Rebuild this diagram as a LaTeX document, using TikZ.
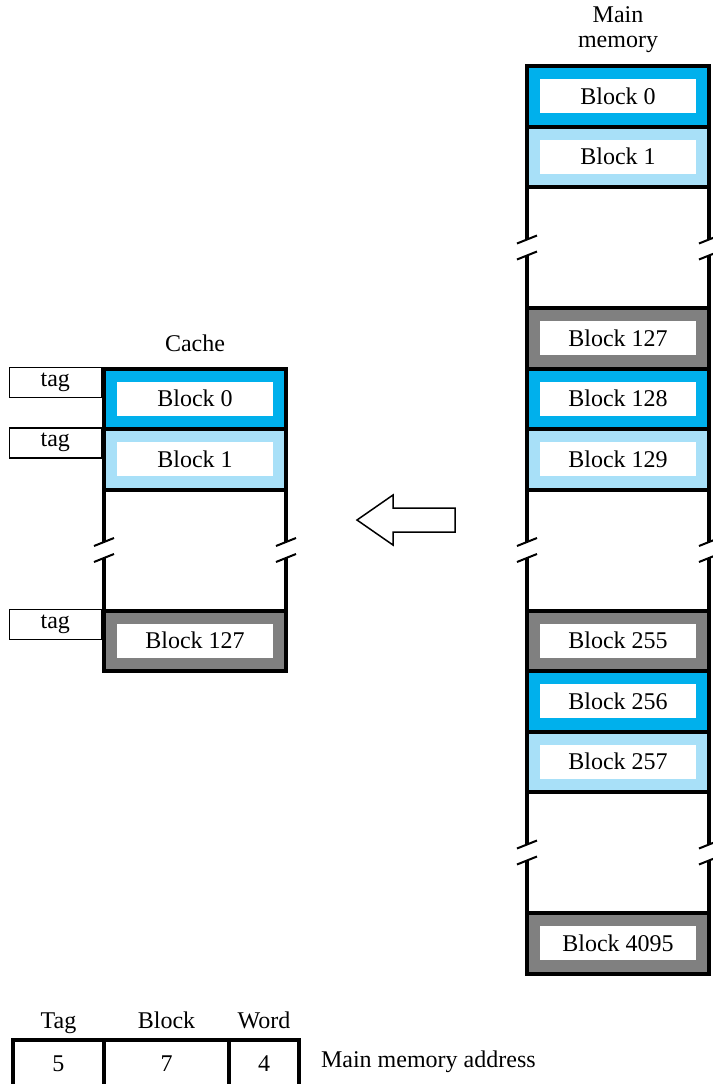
\documentclass[tikz,border=0pt]{standalone}
\usepackage{fontspec}
\setmainfont{Liberation Serif}
\usepackage{tikz}
\usetikzlibrary{positioning}
\definecolor{blkdark}{RGB}{0,176,236}
\definecolor{blklight}{RGB}{168,224,248}
\definecolor{blkgray}{RGB}{128,128,128}

\begin{document}
\begin{tikzpicture}[x=0.5pt, y=-0.5pt, every node/.style={font=\fontsize{12}{12.5}\selectfont},
  row/.style={draw, line width=2pt, minimum width=91pt, minimum height=30.25pt, inner sep=0pt},
  lbl/.style={fill=white, minimum width=78pt, minimum height=17pt, inner sep=0pt},
  tagbox/.style={draw, line width=0.75pt, minimum width=46pt, minimum height=15pt, inner sep=0pt},
  cell/.style={draw, line width=2pt, minimum height=24pt, inner sep=0pt},
  head/.style={anchor=base}]
  \useasboundingbox (0,0) rectangle (713,1084);

  % gaps with break marks
  \foreach \x/\g in {527/2, 709/2, 527/7, 709/7, 527/12, 709/12, 104/7, 286/7} {
    \pgfmathsetmacro\m{126.5+60.5*\g}
    \draw[line width=2pt] (\x,\m-60.5) -- (\x,\m-8) (\x,\m+8) -- (\x,\m+60.5);
    \draw[line width=1pt] (\x-10,\m-4) -- (\x+10,\m-12) (\x-10,\m+12) -- (\x+10,\m+4);
  }

  % main memory
  \node[align=center] (memtitle) at (618,29.5) {Main\\memory};
  \foreach \i/\b/\c in {0/0/blkdark, 1/1/blklight, 4/127/blkgray, 5/128/blkdark, 6/129/blklight,
                        9/255/blkgray, 10/256/blkdark, 11/257/blklight, 14/4095/blkgray} {
    \node[row, fill=\c] (mem\b) at (618,{96.25+60.5*\i}) {};
    \node[lbl] (memlbl\b) at (mem\b) {Block \b};
  }

  % cache
  \node (cachetitle) at (195,343) {Cache};
  \foreach \i/\b/\c in {5/0/blkdark, 6/1/blklight, 9/127/blkgray} {
    \node[row, fill=\c] (cache\b) at (195,{96.25+60.5*\i}) {};
    \node[lbl] (cachelbl\b) at (cache\b) {Block \b};
    \node[tagbox, anchor=north east] (tag\b) at (cache\b.north west) {tag};
  }

  % transfer arrow
  \draw[line width=0.75pt, line join=miter] (455,508) -- (393,508) -- (393,495) -- (357,520)
    -- (393,545) -- (393,532) -- (455,532) -- cycle;

  % address format
  \node[cell, minimum width=45.5pt] (ctag) at (58.5,1064) {5};
  \node[cell, minimum width=62.5pt] (cblk) at (166.5,1064) {7};
  \node[cell, minimum width=35pt] (cword) at (264,1064) {4};
  \node[head] (htag) at (58.5,1028) {Tag};
  \node[head] (hblk) at (166.5,1028) {Block};
  \node[head] (hword) at (264,1028) {Word};
  \node[anchor=west] (addr) at (314,1062) {Main memory address};
\end{tikzpicture}
\end{document}
